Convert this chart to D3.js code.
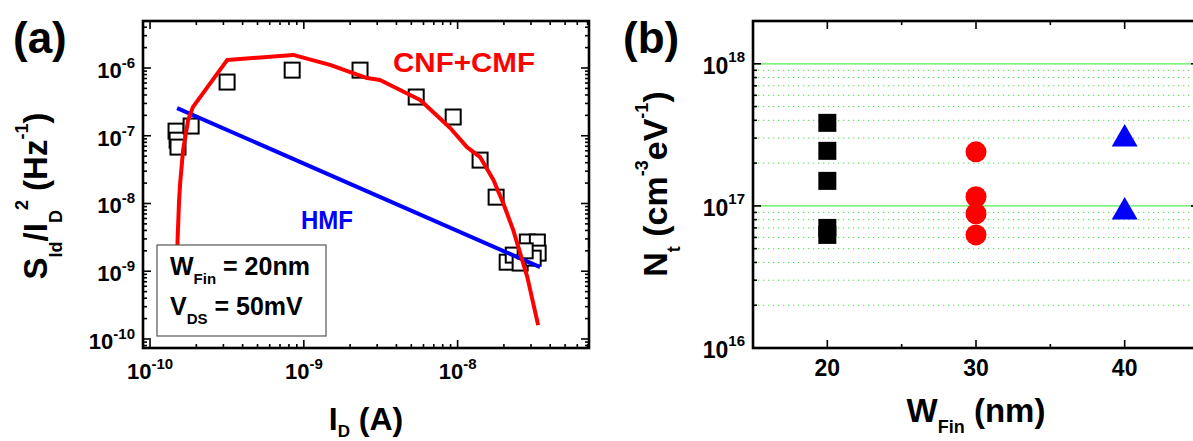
<!DOCTYPE html>
<html><head><meta charset="utf-8">
<script src="https://cdn.jsdelivr.net/npm/d3@7"></script>
<style>
body{margin:0;background:#fff}
svg{display:block}
text{font-family:"Liberation Sans",Arial,sans-serif;font-weight:bold;fill:#000}
</style>
</head><body>
<svg id="chart" width="1193" height="441"></svg>
<script>
// ---------- Panel (a) data ----------
const cnfCmfCurrent = [1.50e-10,1.50e-10,1.51e-10,1.545e-10,1.57e-10,1.64e-10,1.77e-10,1.90e-10,3.17e-10,8.51e-10,1.48e-9,2.58e-9,3.13e-9,5.71e-9,8.95e-9,1.15e-8,1.40e-8,1.71e-8,1.98e-8,2.30e-8,2.55e-8,2.84e-8,3.10e-8,3.34e-8];
const cnfCmfNoise   = [1.35e-10,5.26e-10,2.88e-9,1.12e-8,2.0e-8,6.15e-8,1.71e-7,2.65e-7,1.31e-6,1.56e-6,1.11e-6,7.1e-7,6.65e-7,3.37e-7,1.30e-7,6.8e-8,4.84e-8,2.22e-8,1.01e-8,4.05e-9,1.85e-9,8.18e-10,3.38e-10,1.60e-10];
const hmfCurrent = [1.50e-10, 3.44e-8];
const hmfNoise   = [2.56e-7, 1.15e-9];
const measCurrent = [1.476e-10,1.50e-10,1.52e-10,1.85e-10,3.17e-10,8.4e-10,2.32e-9,5.38e-9,9.36e-9,1.4e-8,1.78e-8,2.1e-8,2.3e-8,2.55e-8,2.84e-8,3.3e-8,3.34e-8,3.1e-8,2.75e-8];
const measNoise   = [1.17e-7,8.6e-8,6.8e-8,1.39e-7,6.2e-7,9.3e-7,9.3e-7,3.73e-7,1.89e-7,4.37e-8,1.24e-8,1.36e-9,1.73e-9,1.32e-9,2.7e-9,2.7e-9,1.85e-9,1.56e-9,2.0e-9];
const xTickExpA = [-10,-9,-8];
const yTickExpA = [-10,-9,-8,-7,-6];

// ---------- Panel (b) data ----------
const wfinTicks = [20,30,40];
const wfin20Nt = [3.84e17,2.44e17,1.5e17,7.0e16,6.25e16];
const wfin30Nt = [2.4e17,1.16e17,8.8e16,6.25e16];
const wfin40Nt = [2.96e17,9.07e16];
const yTickExpB = [16,17,18];

const svg = d3.select("#chart");

// ---------- Scales ----------
const A = {l:143, r:589, t:21, b:348};
const B = {l:753, r:1199, t:21, b:348};
const xA = d3.scaleLog().domain([9.0e-11, 7.15e-8]).range([A.l, A.r]);
const yA = d3.scaleLog().domain([7.36e-11, 4.94e-6]).range([A.b, A.t]);
const xB = d3.scaleLinear().domain([15, 45]).range([B.l, B.r]);
const yB = d3.scaleLog().domain([1e16, 2e18]).range([B.b, B.t]);

function isMajor(v){ const e = Math.log10(v); return Math.abs(e - Math.round(e)) < 1e-6; }

// ---------- Panel (b) grid ----------
const gGrid = svg.append("g");
yB.ticks().filter(v => v > 1e16 && v < 2e18).forEach(v => {
  const y = yB(v);
  const major = isMajor(v);
  gGrid.append("line").attr("x1", B.l).attr("x2", B.r).attr("y1", y).attr("y2", y)
    .attr("stroke", major ? "#55ee55" : "#44dd44")
    .attr("stroke-width", major ? 1.3 : 1)
    .attr("stroke-dasharray", major ? null : "1.3,3.7");
});

// ---------- Ticks ----------
function logTicks(g, scale, side, pos, majLen, minLen){
  scale.ticks().forEach(v => {
    const p = scale(v);
    const len = isMajor(v) ? majLen : minLen;
    let x1,x2,y1,y2;
    if (side === "left")   { x1 = pos; x2 = pos + len; y1 = y2 = p; }
    if (side === "right")  { x1 = pos; x2 = pos - len; y1 = y2 = p; }
    if (side === "top")    { y1 = pos; y2 = pos + len; x1 = x2 = p; }
    if (side === "bottom") { y1 = pos; y2 = pos - len; x1 = x2 = p; }
    g.append("line").attr("x1",x1).attr("x2",x2).attr("y1",y1).attr("y2",y2)
      .attr("stroke","#000").attr("stroke-width",1.6);
  });
}
const gAx = svg.append("g");
logTicks(gAx, yA, "left", A.l, 8, 4);
logTicks(gAx, yA, "right", A.r, 8, 4);
logTicks(gAx, xA, "bottom", A.b, 8, 4);
logTicks(gAx, xA, "top", A.t, 8, 4);
logTicks(gAx, yB, "left", B.l, 8, 4);
logTicks(gAx, yB, "right", B.r, 8, 4);
d3.range(15, 46, 5).forEach(v => {
  const len = v % 10 === 0 ? 8 : 4;
  const x = xB(v);
  gAx.append("line").attr("x1",x).attr("x2",x).attr("y1",B.b).attr("y2",B.b-len).attr("stroke","#000").attr("stroke-width",1.6);
  gAx.append("line").attr("x1",x).attr("x2",x).attr("y1",B.t).attr("y2",B.t+len).attr("stroke","#000").attr("stroke-width",1.6);
});

// frames
[A,B].forEach(P => {
  svg.append("rect").attr("x",P.l).attr("y",P.t).attr("width",P.r-P.l).attr("height",P.b-P.t)
    .attr("fill","none").attr("stroke","#000").attr("stroke-width",2.6);
});

// ---------- Panel (a) marks ----------
const gA = svg.append("g");
gA.selectAll("rect.sq").data(measCurrent.map((c,i)=>[c, measNoise[i]])).join("rect")
  .attr("class","sq")
  .attr("x", d => xA(d[0]) - 7.5).attr("y", d => yA(d[1]) - 7.5)
  .attr("width", 15).attr("height", 15)
  .attr("fill", "#fff").attr("stroke", "#000").attr("stroke-width", 2);

const lineA = d3.line().x(d => xA(d[0])).y(d => yA(d[1]));
gA.append("path").datum(hmfCurrent.map((c,i)=>[c, hmfNoise[i]]))
  .attr("d", lineA).attr("fill","none").attr("stroke","#0000ff").attr("stroke-width",4);
gA.append("path").datum(cnfCmfCurrent.map((c,i)=>[c, cnfCmfNoise[i]]))
  .attr("d", lineA).attr("fill","none").attr("stroke","#ff0000").attr("stroke-width",4)
  .attr("stroke-linejoin","round");

// legend box
const lg = svg.append("g");
lg.append("rect").attr("x",157).attr("y",245).attr("width",169).attr("height",91)
  .attr("fill","#fff").attr("stroke","#555").attr("stroke-width",1.2);
function subText(g, x, y, main, sub, rest, fs, sfs, dy){
  const t = g.append("text").attr("x",x).attr("y",y).style("font-size",fs+"px");
  t.append("tspan").text(main);
  t.append("tspan").attr("dy",dy).style("font-size",sfs+"px").text(sub);
  t.append("tspan").attr("dy",-dy).text(rest);
  return t;
}
subText(lg, 170, 275, "W", "Fin", " = 20nm", 25, 15, 9);
subText(lg, 170, 315, "V", "DS", " = 50mV", 25, 15, 9);

// annotations
svg.append("text").attr("x",393).attr("y",72).style("font-size","28px").style("fill","#ff0000")
  .attr("textLength",142).attr("lengthAdjust","spacingAndGlyphs").text("CNF+CMF");
svg.append("text").attr("x",301).attr("y",229).style("font-size","25px").style("fill","#0000ff")
  .attr("textLength",52).attr("lengthAdjust","spacingAndGlyphs").text("HMF");

// ---------- Panel (b) marks ----------
const gB = svg.append("g");
gB.selectAll("rect.fsq").data(wfin20Nt).join("rect").attr("class","fsq")
  .attr("x", xB(wfinTicks[0]) - 9).attr("y", d => yB(d) - 9)
  .attr("width", 18).attr("height", 18).attr("fill", "#000");
gB.selectAll("circle").data(wfin30Nt).join("circle")
  .attr("cx", xB(wfinTicks[1])).attr("cy", d => yB(d)).attr("r", 10.5).attr("fill", "#ff0000");
const tri = d3.symbol().type(d3.symbolTriangle).size(290);
gB.selectAll("path.tri").data(wfin40Nt).join("path").attr("class","tri")
  .attr("d", tri).attr("transform", d => `translate(${xB(wfinTicks[2])},${yB(d)})`).attr("fill","#0000ff");

// ---------- Tick labels ----------
function powLabel(g, x, y, exp, anchor, fs, sfs, supDy){
  const t = g.append("text").attr("x",x).attr("y",y).attr("text-anchor",anchor).style("font-size",fs+"px");
  t.append("tspan").text("10");
  t.append("tspan").attr("dy",supDy).style("font-size",sfs+"px").text(String(exp));
  return t;
}
const gL = svg.append("g");
yTickExpA.forEach(e => powLabel(gL, A.l - 8, yA(Math.pow(10,e)) + 10, e, "end", 22, 15, -10));
xTickExpA.forEach(e => powLabel(gL, xA(Math.pow(10,e)), 379, e, "middle", 22, 15, -10));
yTickExpB.forEach(e => powLabel(gL, B.l - 8, yB(Math.pow(10,e)) + 10, e, "end", 23, 15, -12));
wfinTicks.forEach(v => gL.append("text").attr("x", xB(v)).attr("y", 376).attr("text-anchor","middle").style("font-size","23px").text(v));

// panel letters
svg.append("text").attr("x",13).attr("y",53).style("font-size","44px").text("(a)");
svg.append("text").attr("x",623).attr("y",53).style("font-size","44px").text("(b)");

// ---------- Axis titles ----------
// (a) x
{
  const t = svg.append("text").attr("x",(A.l+A.r)/2).attr("y",430).attr("text-anchor","middle").style("font-size","32px");
  t.append("tspan").text("I");
  t.append("tspan").attr("dy",7).style("font-size","17px").text("D");
  t.append("tspan").attr("dy",-7).text(" (A)");
}
// (a) y
{
  const t = svg.append("text").attr("transform","translate(47,196) rotate(-90)").attr("text-anchor","middle").style("font-size","33px");
  t.append("tspan").text("S");
  t.append("tspan").attr("dy",15).style("font-size","18px").text("Id");
  t.append("tspan").attr("dy",-15).text("/I");
  t.append("tspan").attr("dy",15).style("font-size","18px").text("D");
  t.append("tspan").attr("dy",-34).style("font-size","18px").text("2");
  t.append("tspan").attr("dy",19).text(" (Hz");
  t.append("tspan").attr("dy",-19).style("font-size","18px").text("-1");
  t.append("tspan").attr("dy",19).text(")");
}
// (b) x
{
  const t = svg.append("text").attr("x",976).attr("y",422).attr("text-anchor","middle").style("font-size","33px");
  t.append("tspan").text("W");
  t.append("tspan").attr("dy",11).style("font-size","18px").text("Fin");
  t.append("tspan").attr("dy",-11).text(" (nm)");
}
// (b) y
{
  const t = svg.append("text").attr("transform","translate(667,184) rotate(-90)").attr("text-anchor","middle").style("font-size","34px");
  t.append("tspan").text("N");
  t.append("tspan").attr("dy",13).style("font-size","18px").text("t");
  t.append("tspan").attr("dy",-13).text(" (cm");
  t.append("tspan").attr("dy",-19).style("font-size","18px").text("-3");
  t.append("tspan").attr("dy",19).text("eV");
  t.append("tspan").attr("dy",-19).style("font-size","18px").text("-1");
  t.append("tspan").attr("dy",19).text(")");
}
</script>
</body></html>
